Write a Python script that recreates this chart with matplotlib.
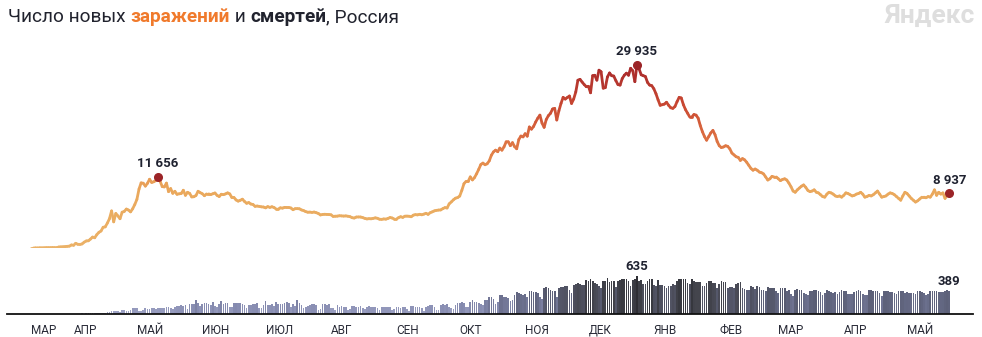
import numpy as np
import pandas as pd
import matplotlib
matplotlib.use("Agg")
import matplotlib.pyplot as plt
import matplotlib.dates as mdates
from matplotlib.collections import LineCollection
from matplotlib.colors import LinearSegmentedColormap

plt.rcParams['font.family'] = ['Roboto', 'DejaVu Sans']

# Новые заражения по дням (12.03.2020 - 21.05.2021)
cases_2020_03 = [6, 6, 14, 4, 30, 21, 33, 52, 54, 53, 71, 57, 55, 163, 182, 196, 228, 270, 302, 500]
cases_2020_04 = [440, 771, 601, 582, 658, 954, 1154, 1175, 1459, 1786, 1667, 2186, 2558, 2774, 3388,
                 3448, 4070, 4785, 6060, 4268, 5642, 5236, 4774, 5849, 5966, 6361, 6198, 5900, 6411, 7099]
cases_2020_05 = [7933, 9623, 10633, 10581, 10102, 10559, 11231, 10699, 10817, 11012, 11656, 10899, 10028,
                 9974, 10598, 9200, 9709, 8926, 9263, 8764, 8849, 8894, 9434, 8599, 9100, 8915, 8338,
                 8371, 8572, 9268, 9035]
cases_2020_06 = [8863, 8536, 8831, 8831, 8726, 8855, 8984, 8595, 8404, 8779, 8706, 8835, 9000, 8835,
                 8246, 8248, 7843, 7652, 7790, 7972, 7600, 7300, 7425, 7176, 7113, 6800, 6852, 6791,
                 6719, 6693]
cases_2020_07 = [6556, 6760, 6632, 6736, 6611, 6368, 6368, 6562, 6509, 6635, 6615, 6611, 6537, 6248,
                 6422, 6428, 6406, 6214, 6109, 5940, 5842, 5862, 5811, 5871, 5765, 5635, 5395, 5475,
                 5509, 5482, 5462]
cases_2020_08 = [5427, 5159, 5189, 5204, 5267, 5241, 5212, 5241, 5189, 5118, 4945, 4892, 5057, 5065,
                 5061, 4969, 4839, 4748, 4790, 4767, 4838, 4921, 4852, 4696, 4676, 4744, 4711, 4829,
                 4980, 4897, 4729]
cases_2020_09 = [4729, 4952, 5110, 4995, 5195, 5205, 5185, 5099, 5363, 5449, 5406, 5509, 5421, 5529,
                 5670, 5488, 5762, 5905, 6065, 6148, 6196, 6215, 6431, 6595, 6529, 7212, 7523, 7867,
                 8135, 8232]
cases_2020_10 = [8481, 9412, 10499, 10888, 10888, 11615, 11115, 11493, 12126, 12846, 13634, 13868,
                 13592, 13754, 14231, 15150, 15700, 15982, 15722, 16319, 15971, 16521, 17340, 17347,
                 16710, 17205, 16550, 16202, 17717, 18283, 18140]
cases_2020_11 = [18665, 18257, 19768, 19404, 19851, 20582, 21200, 21700, 20400, 19700, 20977, 21608,
                 21983, 22702, 22800, 20900, 22410, 23610, 24600, 24318, 24581, 24822, 23600, 24326,
                 25487, 27400, 27543, 27100, 26683, 26338]
cases_2020_12 = [26402, 25345, 28145, 28209, 27403, 29039, 28782, 26097, 26190, 27927, 28585, 28137,
                 28080, 27328, 26689, 26600, 27656, 28214, 28552, 28209, 29350, 28948, 27160, 29935,
                 29258, 28284, 28137, 28002, 27039, 26600, 26513]
cases_2021_01 = [26000, 25200, 24200, 23300, 23400, 23500, 23800, 23300, 22900, 22800, 23100, 23900,
                 24600, 24500, 23400, 22600, 22000, 21400, 21400, 21800, 21700, 21200, 20000, 19000,
                 18200, 17600, 18200, 18800, 19200, 18500, 17400]
cases_2021_02 = [16700, 16400, 16500, 16700, 16600, 16200, 15500, 15200, 14900, 14800, 14300, 14600,
                 14400, 14000, 13500, 13000, 12700, 12900, 12700, 12400, 12300, 12100, 11600, 11100,
                 11300, 11700, 11600, 11600]
cases_2021_03 = [11300, 11000, 11200, 11300, 11100, 10600, 10000, 9300, 9100, 9500, 9800, 10100,
                 10300, 9900, 9400, 9200, 9300, 9500, 9100, 9000, 8700, 8400, 8300, 8800, 9100, 9000,
                 8800, 8500, 8400, 8500, 8300]
cases_2021_04 = [8600, 9000, 8900, 8700, 8500, 8600, 8800, 8900, 9100, 8800, 8300, 8400, 8600, 8500,
                 8700, 9000, 9300, 8800, 8300, 8400, 8500, 8800, 9000, 8900, 8700, 8400, 8100, 7800,
                 8500, 9100]
cases_2021_05 = [8900, 8500, 8100, 7800, 7500, 7700, 8000, 8300, 8300, 8200, 8400, 8300, 8800, 9500,
                 8600, 9100, 8800, 9000, 8100, 8600, 8937]

# Смерти по дням
deaths_2020_03 = [0, 0, 0, 0, 0, 0, 0, 1, 0, 0, 0, 0, 0, 1, 1, 1, 4, 1, 1, 8]
deaths_2020_04 = [8, 7, 2, 4, 9, 2, 11, 13, 13, 18, 12, 18, 24, 22, 18, 19, 36, 41, 48, 45,
                  51, 57, 42, 60, 60, 47, 43, 72, 108, 101]
deaths_2020_05 = [96, 57, 58, 76, 95, 86, 88, 98, 97, 88, 94, 107, 96, 93, 113, 119, 94, 91, 115, 127,
                  135, 150, 139, 153, 92, 174, 161, 174, 232, 181, 138]
deaths_2020_06 = [176, 182, 178, 169, 144, 197, 134, 112, 171, 216, 174, 194, 182, 113, 119, 193, 194,
                  181, 184, 161, 153, 95, 153, 154, 176, 176, 188, 104, 93, 154]
deaths_2020_07 = [216, 147, 154, 168, 135, 198, 173, 171, 174, 192, 197, 188, 114, 173, 138, 232, 193,
                  153, 95, 123, 137, 150, 165, 168, 147, 76, 84, 165, 161, 154, 161]
deaths_2020_08 = [95, 93, 70, 144, 120, 129, 113, 119, 70, 77, 130, 129, 124, 114, 128, 103, 80, 114,
                  129, 118, 121, 115, 96, 60, 122, 116, 119, 117, 110, 69, 86]
deaths_2020_09 = [123, 110, 106, 123, 121, 82, 56, 134, 129, 124, 113, 123, 98, 56, 125, 135, 144, 146,
                  116, 61, 70, 160, 169, 150, 174, 120, 95, 91, 160, 186]
deaths_2020_10 = [186, 201, 186, 117, 124, 198, 239, 201, 197, 186, 174, 149, 244, 232, 286, 279, 253,
                  176, 202, 317, 317, 286, 283, 278, 219, 229, 320, 366, 355, 334, 320]
deaths_2020_11 = [334, 282, 389, 386, 378, 376, 349, 286, 256, 432, 456, 439, 411, 387, 395, 294, 442,
                  456, 463, 473, 467, 401, 361, 491, 507, 524, 510, 496, 491, 569]
deaths_2020_12 = [559, 589, 554, 524, 510, 474, 433, 561, 560, 600, 544, 560, 560, 450, 555, 573, 587,
                  585, 585, 550, 479, 568, 588, 635, 562, 571, 509, 505, 562, 596, 586]
deaths_2021_01 = [485, 471, 572, 491, 486, 470, 442, 472, 470, 499, 482, 562, 592, 586, 593, 587, 527,
                  501, 598, 553, 545, 545, 544, 470, 471, 525, 562, 554, 526, 520, 446]
deaths_2021_02 = [513, 559, 535, 537, 446, 458, 457, 442, 512, 518, 534, 439, 423, 399, 398, 481, 459,
                  428, 468, 449, 402, 398, 385, 449, 442, 444, 439, 390]
deaths_2021_03 = [362, 437, 434, 432, 391, 400, 330, 312, 403, 422, 407, 398, 354, 337, 321, 397, 394,
                  407, 412, 382, 367, 318, 362, 398, 396, 379, 361, 370, 335, 371, 400]
deaths_2021_04 = [393, 387, 343, 336, 343, 380, 392, 401, 381, 331, 317, 325, 400, 398, 394, 387, 384,
                  348, 307, 396, 395, 387, 375, 370, 359, 333, 387, 387, 384, 363]
deaths_2021_05 = [365, 362, 352, 349, 339, 382, 394, 377, 352, 323, 339, 388, 389, 388, 395, 373, 365,
                  369, 387, 398, 389]

month_labels = ["МАР", "АПР", "МАЙ", "ИЮН", "ИЮЛ", "АВГ", "СЕН", "ОКТ", "НОЯ", "ДЕК",
                "ЯНВ", "ФЕВ", "МАР", "АПР", "МАЙ"]
month_starts = ["2020-03-12", "2020-04-01", "2020-05-01", "2020-06-01", "2020-07-01", "2020-08-01",
                "2020-09-01", "2020-10-01", "2020-11-01", "2020-12-01", "2021-01-01", "2021-02-01",
                "2021-03-01", "2021-04-01", "2021-05-01"]

cases = np.array(cases_2020_03 + cases_2020_04 + cases_2020_05 + cases_2020_06 + cases_2020_07
                 + cases_2020_08 + cases_2020_09 + cases_2020_10 + cases_2020_11 + cases_2020_12
                 + cases_2021_01 + cases_2021_02 + cases_2021_03 + cases_2021_04 + cases_2021_05, float)
deaths = np.array(deaths_2020_03 + deaths_2020_04 + deaths_2020_05 + deaths_2020_06 + deaths_2020_07
                  + deaths_2020_08 + deaths_2020_09 + deaths_2020_10 + deaths_2020_11 + deaths_2020_12
                  + deaths_2021_01 + deaths_2021_02 + deaths_2021_03 + deaths_2021_04 + deaths_2021_05, float)
dates = pd.date_range("2020-03-12", periods=len(cases), freq="D")
x = mdates.date2num(dates)

W, H = 982, 337
fig = plt.figure(figsize=(W / 100, H / 100), dpi=100)
fig.patch.set_facecolor("white")

# Оси: x-пиксели 7..973, 2.11 px на день
x0 = x[0] - (31.4 - 7) / 2.11
x1 = x[0] + (973 - 31.4) / 2.11
ax1 = fig.add_axes([7 / W, 1 - 248 / H, 966 / W, 200 / H])
ax2 = fig.add_axes([7 / W, 1 - 314 / H, 966 / W, 60 / H])
for ax in (ax1, ax2):
    ax.set_xlim(x0, x1)
    ax.patch.set_alpha(0)
    for s in ax.spines.values():
        s.set_visible(False)
    ax.set_yticks([])
ax1.set_xticks([])
ax1.set_ylim(0, 200 * 163.3)
ax2.set_ylim(0, 60 * 16.9)

# Линия заражений с цветом по значению
line_cmap = LinearSegmentedColormap.from_list("cases", [
    (0.0, "#ebb268"), (0.3, "#eaa95d"), (0.45, "#e6904f"), (0.6, "#dc6e41"),
    (0.78, "#c94832"), (1.0, "#a6282b")])
pts = np.column_stack([x, cases]).reshape(-1, 1, 2)
segs = np.concatenate([pts[:-1], pts[1:]], axis=1)
vals = (cases[:-1] + cases[1:]) / 2 / cases.max()
lc = LineCollection(segs, colors=line_cmap(vals), linewidths=2.0, capstyle="round", joinstyle="round")
ax1.add_collection(lc)

# Столбцы смертей
bar_cmap = LinearSegmentedColormap.from_list("deaths", [
    (0.0, "#a5aacb"), (0.3, "#868bb0"), (0.6, "#60647e"), (0.85, "#45464f"), (1.0, "#2e2e34")])
ax2.bar(x, deaths, width=0.8, color=bar_cmap(deaths / deaths.max()), linewidth=0)

ax2.spines["bottom"].set_visible(True)
ax2.spines["bottom"].set_color("#111111")
ax2.spines["bottom"].set_linewidth(1.3)
ax2.set_xticks(mdates.date2num(pd.to_datetime(month_starts)))
ax2.set_xticklabels(month_labels, ha="left", fontsize=8.5, color="#2a2c38")
ax2.tick_params(axis="x", length=0, pad=7)

# Отметки
dot_color = "#9b2427"
txt_color = "#1f2230"
for idx in [int(np.argmax(cases[:150])), int(np.argmax(cases)), len(cases) - 1]:
    ax1.plot(x[idx], cases[idx], "o", color=dot_color, markersize=5.5, zorder=5)
    label = f"{int(cases[idx]):,}".replace(",", " ")
    ax1.annotate(label, (x[idx], cases[idx]), xytext=(0, 9.5), textcoords="offset points",
                 ha="center", va="center", fontsize=9.5, fontweight="bold", color=txt_color)
for idx in [int(np.argmax(deaths)), len(deaths) - 1]:
    ax2.annotate(f"{int(deaths[idx])}", (x[idx], deaths[idx]), xytext=(0, 7), textcoords="offset points",
                 ha="center", va="center", fontsize=9.5, fontweight="bold", color=txt_color)

# Заголовок из частей
title_parts = [("Число новых ", "#21232e", "normal"), ("заражений", "#f07a2c", "bold"),
               (" и ", "#21232e", "normal"), ("смертей", "#21232e", "bold"),
               (", Россия", "#21232e", "normal")]
renderer = fig.canvas.get_renderer()
tx = 8
for part, col, wt in title_parts:
    t = fig.text(tx / W, 1 - 17 / H, part, color=col, fontweight=wt, fontsize=13.7,
                 ha="left", va="center")
    tx = t.get_window_extent(renderer).x1

fig.text(975 / W, 1 - 16 / H, "Яндекс", color="#dedede", fontweight="bold", fontsize=19,
         ha="right", va="center")

fig.savefig("out.png", dpi=100, facecolor="white")
